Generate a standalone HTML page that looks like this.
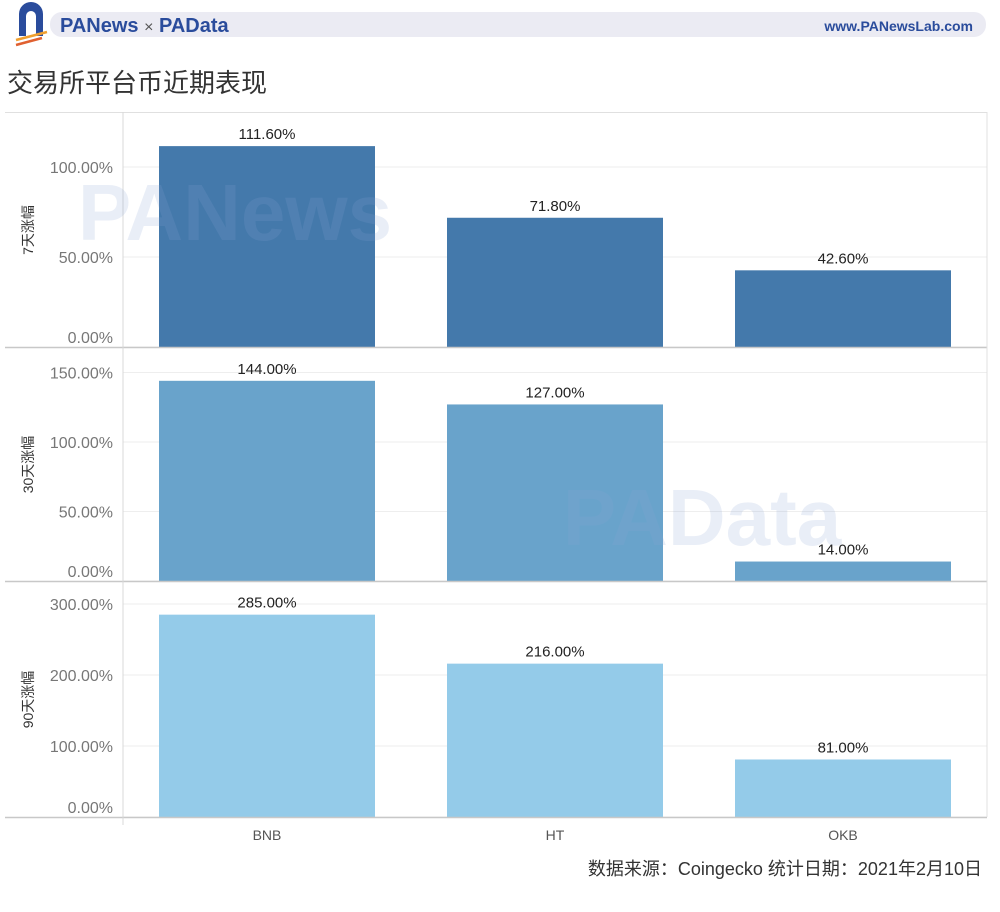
<!DOCTYPE html>
<html><head><meta charset="utf-8"><style>
body{margin:0;background:#fff;width:1000px;height:907px;overflow:hidden;font-family:"Liberation Sans","Noto Sans CJK SC",sans-serif}
</style></head><body>
<svg id="c" width="1000" height="907" xmlns="http://www.w3.org/2000/svg">
<g>
<rect x="50" y="12" width="936" height="25" rx="12" fill="#ebebf3"/>
<path d="M19 36 V14 a12 12 0 0 1 24 0 V36 h-7 V16 a5 5 0 0 0 -10 0 V36 z" fill="#2a4c9c"/>
<line x1="16" y1="40" x2="47" y2="32" stroke="#f0a030" stroke-width="2.5"/>
<line x1="16" y1="45" x2="42" y2="38" stroke="#e06030" stroke-width="2.5"/>
<text x="60" y="32" font-size="20" font-weight="bold" fill="#2a4c9c">PANews <tspan font-weight="normal" fill="#555" font-size="16">×</tspan> PAData</text>
<text x="973" y="31" font-size="14" font-weight="bold" fill="#2a4c9c" text-anchor="end">www.PANewsLab.com</text>
</g>
<text x="7" y="92" font-size="26" fill="#333">交易所平台币近期表现</text>
<g id="plots"></g>
<text x="235" y="240" font-size="80" font-weight="bold" fill="#8aa4d4" text-anchor="middle" opacity="0.18">PANews</text>
<text x="702" y="545" font-size="80" font-weight="bold" fill="#8aa4d4" text-anchor="middle" opacity="0.18">PAData</text>
<text x="982" y="875" font-size="18" fill="#333" text-anchor="end">数据来源：Coingecko 统计日期：2021年2月10日</text>
</svg>
<script>
const categories=["BNB","HT","OKB"];
const panelTitles=["7天涨幅","30天涨幅","90天涨幅"];
const values7=[111.6,71.8,42.6];
const values30=[144,127,14];
const values90=[285,216,81];
const ticks7=[0,50,100];
const ticks30=[0,50,100,150];
const ticks90=[0,100,200,300];
const NS="http://www.w3.org/2000/svg";
const g=document.getElementById('plots');
function mk(t,a,p){const e=document.createElementNS(NS,t);for(const k in a)e.setAttribute(k,a[k]);(p||g).appendChild(e);return e;}
const panels=[
 {vals:values7,ticks:ticks7,top:113,bot:347,max:130,color:"#4479ab"},
 {vals:values30,ticks:ticks30,top:348,bot:581,max:167.6,color:"#69a3cb"},
 {vals:values90,ticks:ticks90,top:582,bot:817,max:331,color:"#94cbe9"}];
const xL=123,xR=987,band=(xR-xL)/3,bw=216;
function xs(i){return xL+band*i+(band-bw)/2;}
panels.forEach((p,pi)=>{
 const y=v=>p.bot-v/p.max*(p.bot-p.top);
 const pg=mk('g',{});
 
 
 p.ticks.forEach(t=>{
  const ln=mk('line',{x1:xL,x2:xR,y1:y(t),y2:y(t),stroke:"#eeeeee"},pg);
  
  
  const ty=t===0?y(t)-4:y(t)+6;
  const tx=mk('text',{x:113,y:ty,'font-size':16,fill:"#777",'text-anchor':'end'},pg);
  tx.textContent=t.toFixed(2)+"%";
  
  
 });
 p.vals.forEach((v,i)=>{
  const r=mk('rect',{x:xs(i),y:y(v),width:bw,height:p.bot-y(v),fill:p.color},pg);
  
  
  const lb=mk('text',{x:xs(i)+bw/2,y:y(v)-7,'font-size':15,fill:"#222",'text-anchor':'middle'},pg);
  lb.textContent=v.toFixed(2)+"%";
  
  
 });
 const cy=(p.top+p.bot)/2;
 const at=mk('text',{x:0,y:0,'font-size':14,fill:"#333",'text-anchor':'middle',transform:`translate(33,${cy}) rotate(-90)`},pg);
 at.textContent=panelTitles[pi];
 
 
 const bl=mk('line',{x1:5,x2:xR,y1:p.bot+0.5,y2:p.bot+0.5,stroke:"#c8c8c8",'stroke-width':1.5},pg);
 
 
});
const tl=mk('line',{x1:5,x2:xR,y1:112.5,y2:112.5,stroke:"#e0e0e0"});


const ax=mk('line',{x1:xL,x2:xL,y1:112,y2:825,stroke:"#d8d8d8"});


const rx=mk('line',{x1:xR,x2:xR,y1:112,y2:817,stroke:"#e0e0e0"});


categories.forEach((c,i)=>{
 const t=mk('text',{x:xs(i)+bw/2,y:840,'font-size':14,fill:"#555",'text-anchor':'middle'});
 t.textContent=c;
 
 
});
</script>
</body></html>
